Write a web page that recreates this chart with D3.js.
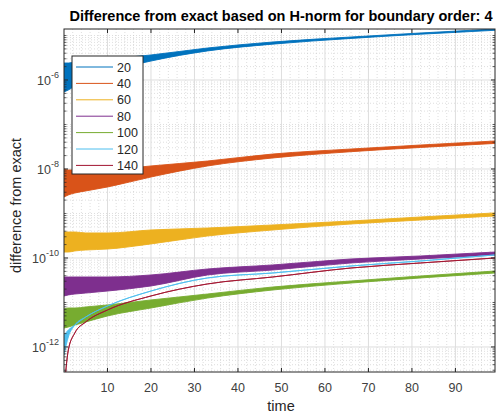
<!DOCTYPE html>
<html>
<head>
<meta charset="utf-8">
<script src="https://cdn.jsdelivr.net/npm/d3@7"></script>
<style>
  body { margin: 0; background: #fff; }
  text { font-family: "Liberation Sans", Arial, sans-serif; fill: #262626; }
</style>
</head>
<body>
<svg id="chart" width="496" height="416"></svg>
<script>
// data: upper / lower envelope of each oscillating error curve
var times = [0, 1, 2.5, 5, 10, 20, 33, 48, 66, 82, 99.1];
var labels = ["20", "40", "60", "80", "100", "120", "140"];
var colors = ["#0072BD", "#D95319", "#EDB120", "#7E2F8E", "#77AC30", "#4DBEEE", "#A2142F"];

var hi20 = [2.41e-6, 2.41e-6, 2.54e-6, 2.67e-6, 2.96e-6, 3.65e-6, 5.24e-6, 7.14e-6, 9.25e-6, 1.14e-5, 1.40e-5];
var lo20 = [5.37e-7, 5.96e-7, 7.33e-7, 1.0e-6, 1.51e-6, 2.67e-6, 4.5e-6, 6.4e-6, 8.6e-6, 1.07e-5, 1.31e-5];
var hi40 = [1.0e-8, 9.5e-9, 9.5e-9, 9.0e-9, 9.5e-9, 1.17e-8, 1.51e-8, 2.17e-8, 2.81e-8, 3.46e-8, 4.26e-8];
var lo40 = [2.35e-9, 2.61e-9, 2.89e-9, 3.21e-9, 3.94e-9, 6.61e-9, 1.17e-8, 1.77e-8, 2.45e-8, 3.05e-8, 3.75e-8];
var hi60 = [3.84e-10, 3.84e-10, 3.84e-10, 3.65e-10, 3.65e-10, 4.26e-10, 4.72e-10, 5.52e-10, 6.78e-10, 8.34e-10, 1.03e-9];
var lo60 = [1.36e-10, 1.36e-10, 1.44e-10, 1.51e-10, 1.59e-10, 2.07e-10, 3.12e-10, 4.26e-10, 5.81e-10, 7.14e-10, 8.79e-10];
var hi80 = [3.74e-11, 3.74e-11, 3.74e-11, 3.74e-11, 3.74e-11, 4.15e-11, 5.66e-11, 6.97e-11, 9.5e-11, 1.11e-10, 1.36e-10];
var lo80 = [1.40e-11, 1.48e-11, 1.55e-11, 1.63e-11, 1.81e-11, 2.35e-11, 4.15e-11, 5.37e-11, 7.73e-11, 9.5e-11, 1.17e-10];
var hi100 = [7.15e-12, 7.52e-12, 7.52e-12, 7.93e-12, 8.79e-12, 1.14e-11, 1.55e-11, 2.23e-11, 3.04e-11, 3.94e-11, 5.1e-11];
var lo100 = [2.67e-12, 2.81e-12, 3.12e-12, 3.65e-12, 4.98e-12, 7.52e-12, 1.26e-11, 1.91e-11, 2.74e-11, 3.56e-11, 4.6e-11];
var hi120 = [1.86e-12, 2.41e-12, 3.12e-12, 4.72e-12, 8.34e-12, 1.81e-11, 3.56e-11, 4.6e-11, 6.61e-11, 8.57e-11, 1.17e-10];
var lo120 = [6.6e-13, 1.68e-12, 3.12e-12, 4.72e-12, 8.34e-12, 1.81e-11, 3.56e-11, 4.6e-11, 6.61e-11, 8.57e-11, 1.17e-10];
var hi140 = [1.0e-13, 8.6e-13, 2.07e-12, 3.65e-12, 6.78e-12, 1.40e-11, 2.61e-11, 3.74e-11, 5.96e-11, 7.73e-11, 1.0e-10];
var lo140 = [1.0e-13, 8.6e-13, 2.07e-12, 3.65e-12, 6.78e-12, 1.40e-11, 2.61e-11, 3.74e-11, 5.96e-11, 7.73e-11, 1.0e-10];

var xTicks = [10, 20, 30, 40, 50, 60, 70, 80, 90];
var yTicks = [1e-12, 1e-10, 1e-8, 1e-6];
var yLabelExp = ["-12", "-10", "-8", "-6"];

var highs = [hi20, hi40, hi60, hi80, hi100, hi120, hi140];
var lows = [lo20, lo40, lo60, lo80, lo100, lo120, lo140];

var svg = d3.select("#chart");
var pLeft = 64, pRight = 495, pTop = 29, pBottom = 372;

var x = d3.scaleLinear().domain([0, 99.1]).range([pLeft, pRight]);
var y = d3.scaleLog().domain([2.74e-13, 1.4e-5]).range([pBottom, pTop]);

// grid
var grid = svg.append("g");
var minorX = d3.range(2, 99.1, 2).filter(function(d) { return d % 10 !== 0; });
grid.selectAll("line.mx").data(minorX).enter().append("line")
  .attr("x1", function(d) { return x(d); }).attr("x2", function(d) { return x(d); })
  .attr("y1", pTop).attr("y2", pBottom)
  .attr("stroke", "#c8c8c8").attr("stroke-width", 0.6).attr("stroke-dasharray", "1,2");

var minorY = [];
for (var k = -13; k <= -5; k++) {
  for (var m = 1; m <= 9; m++) {
    var v = m * Math.pow(10, k);
    if (v > 2.74e-13 && v < 1.4e-5 && !(m === 1 && k % 2 === 0)) minorY.push(v);
  }
}
grid.selectAll("line.my").data(minorY).enter().append("line")
  .attr("x1", pLeft).attr("x2", pRight)
  .attr("y1", function(d) { return y(d); }).attr("y2", function(d) { return y(d); })
  .attr("stroke", "#c8c8c8").attr("stroke-width", 0.6).attr("stroke-dasharray", "1,2");

grid.selectAll("line.gx").data(xTicks).enter().append("line")
  .attr("x1", function(d) { return x(d); }).attr("x2", function(d) { return x(d); })
  .attr("y1", pTop).attr("y2", pBottom)
  .attr("stroke", "#dedede").attr("stroke-width", 1);
grid.selectAll("line.gy").data(yTicks).enter().append("line")
  .attr("x1", pLeft).attr("x2", pRight)
  .attr("y1", function(d) { return y(d); }).attr("y2", function(d) { return y(d); })
  .attr("stroke", "#dedede").attr("stroke-width", 1);

// series
svg.append("clipPath").attr("id", "clip").append("rect")
  .attr("x", pLeft).attr("y", pTop).attr("width", pRight - pLeft).attr("height", pBottom - pTop);

var area = d3.area()
  .x(function(d) { return x(d.t); })
  .y0(function(d) { return y(d.lo); })
  .y1(function(d) { return y(d.hi); })
  .curve(d3.curveMonotoneX);

var plot = svg.append("g").attr("clip-path", "url(#clip)");
labels.forEach(function(name, i) {
  var pts = times.map(function(t, j) { return {t: t, hi: highs[i][j], lo: lows[i][j]}; });
  plot.append("path")
    .datum(pts)
    .attr("d", area)
    .attr("fill", colors[i])
    .attr("stroke", colors[i])
    .attr("stroke-width", 0.9)
    .attr("stroke-linejoin", "round");
});

// axes box and ticks
var axes = svg.append("g");
axes.append("rect").attr("x", pLeft).attr("y", pTop)
  .attr("width", pRight - pLeft).attr("height", pBottom - pTop)
  .attr("fill", "none").attr("stroke", "#262626").attr("stroke-width", 1);

xTicks.forEach(function(d) {
  axes.append("line").attr("x1", x(d)).attr("x2", x(d)).attr("y1", pBottom).attr("y2", pBottom - 4)
    .attr("stroke", "#262626");
  axes.append("line").attr("x1", x(d)).attr("x2", x(d)).attr("y1", pTop).attr("y2", pTop + 4)
    .attr("stroke", "#262626");
  axes.append("text").attr("x", x(d)).attr("y", 392)
    .attr("text-anchor", "middle").attr("font-size", "12.5px").style("fill", "#404040").text(d);
});

minorY.forEach(function(d) {
  axes.append("line").attr("x1", pLeft).attr("x2", pLeft + 2.5).attr("y1", y(d)).attr("y2", y(d))
    .attr("stroke", "#262626").attr("stroke-width", 0.7);
  axes.append("line").attr("x1", pRight).attr("x2", pRight - 2.5).attr("y1", y(d)).attr("y2", y(d))
    .attr("stroke", "#262626").attr("stroke-width", 0.7);
});

yTicks.forEach(function(d, i) {
  axes.append("line").attr("x1", pLeft).attr("x2", pLeft + 4).attr("y1", y(d)).attr("y2", y(d))
    .attr("stroke", "#262626");
  axes.append("line").attr("x1", pRight).attr("x2", pRight - 4).attr("y1", y(d)).attr("y2", y(d))
    .attr("stroke", "#262626");
  var t = axes.append("text").attr("x", 59).attr("y", y(d) + 5)
    .attr("text-anchor", "end").attr("font-size", "12.5px").style("fill", "#404040");
  t.append("tspan").text("10");
  t.append("tspan").attr("dy", -7).attr("font-size", "9px").text(yLabelExp[i]);
});

// titles
svg.append("text").attr("x", 281).attr("y", 21)
  .attr("text-anchor", "middle").attr("font-size", "14.5px").attr("font-weight", "bold")
  .style("fill", "#000")
  .text("Difference from exact based on H-norm for boundary order: 4");

svg.append("text").attr("x", 281).attr("y", 411)
  .attr("text-anchor", "middle").attr("font-size", "14.5px").text("time");

svg.append("text").attr("transform", "translate(21," + ((pTop + pBottom) / 2 + 5) + ") rotate(-90)")
  .attr("text-anchor", "middle").attr("font-size", "14.5px").text("difference from exact");

// legend
var legend = svg.append("g");
legend.append("rect").attr("x", 72).attr("y", 56).attr("width", 71).attr("height", 118)
  .attr("fill", "#fff").attr("stroke", "#262626").attr("stroke-width", 1);
labels.forEach(function(name, i) {
  var cy = 67 + i * 16.4;
  legend.append("line").attr("x1", 76).attr("x2", 113).attr("y1", cy).attr("y2", cy)
    .attr("stroke", colors[i]).attr("stroke-width", 1);
  legend.append("text").attr("x", 117).attr("y", cy + 4.5)
    .attr("font-size", "12.5px").text(name);
});
</script>
</body>
</html>
